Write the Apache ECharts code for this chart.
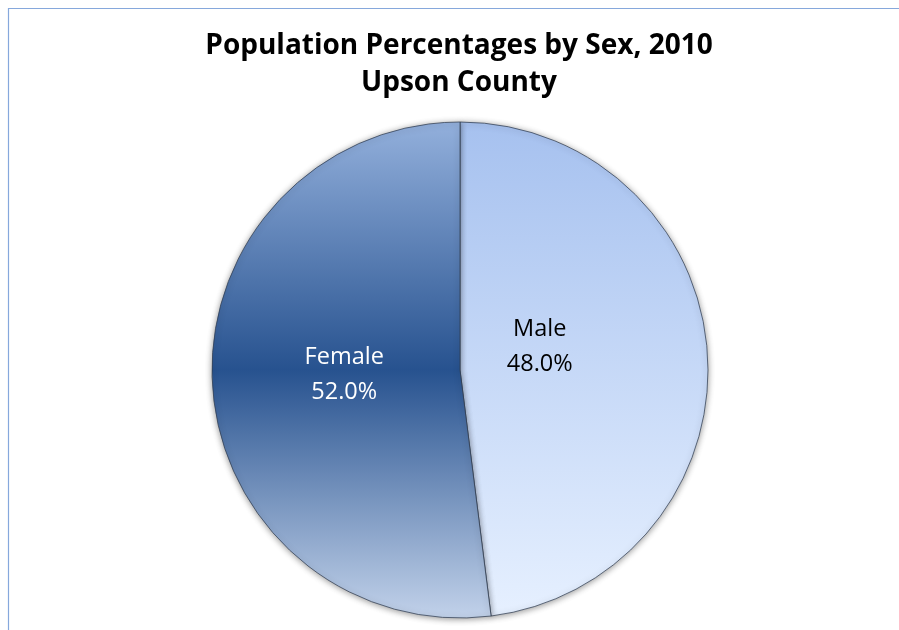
<!DOCTYPE html>
<html>
<head>
<meta charset="utf-8">
<title>Population Percentages by Sex, 2010</title>
<script src="https://cdn.jsdelivr.net/npm/echarts@6/dist/echarts.min.js"></script>
<style>
  html, body { margin: 0; padding: 0; background: #ffffff; }
  #chart { width: 899px; height: 630px; }
</style>
</head>
<body>
<div id="chart"></div>
<script>
// Population shares for Upson County, 2010 census
const categories = ['Male', 'Female'];
const percentages = [48.0, 52.0];

const chart = echarts.init(document.getElementById('chart'));

// Slice fills: vertical gradients, light-to-lighter for Male, light-dark-light for Female
const fills = [
  new echarts.graphic.LinearGradient(0, 0, 0, 1, [
    { offset: 0, color: '#a6c1ef' },
    { offset: 1, color: '#e6f0ff' }
  ]),
  new echarts.graphic.LinearGradient(0, 0, 0, 1, [
    { offset: 0, color: '#93b0dc' },
    { offset: 0.5, color: '#27528f' },
    { offset: 1, color: '#c2d2ea' }
  ])
];
const labelColors = ['#000000', '#ffffff'];
const labelShift = [[-47, -15], [11, -3]];

chart.setOption({
  animation: false,
  backgroundColor: '#ffffff',
  title: {
    text: 'Population Percentages by Sex, 2010\nUpson County',
    left: 459,
    top: 28,
    padding: 0,
    textAlign: 'center',
    textStyle: {
      fontFamily: 'Open Sans',
      fontWeight: 'bold',
      fontSize: 28,
      lineHeight: 37,
      color: '#000000'
    }
  },
  graphic: [{
    type: 'rect',
    silent: true,
    shape: { x: 8.5, y: 8.5, width: 1000, height: 1000 },
    style: { fill: 'none', stroke: '#86a8dc', lineWidth: 1.2 }
  }],
  series: [{
    type: 'pie',
    center: [460, 370],
    radius: 248,
    startAngle: 90,
    clockwise: true,
    avoidLabelOverlap: false,
    emphasis: { disabled: true },
    itemStyle: {
      borderColor: 'rgba(50,62,80,0.75)',
      borderWidth: 1,
      shadowBlur: 6,
      shadowColor: 'rgba(0,0,0,0.4)',
      shadowOffsetY: 1
    },
    label: {
      position: 'inside',
      fontFamily: 'Open Sans',
      fontSize: 23.5,
      lineHeight: 35,
      formatter: p => p.name + '\n' + p.value.toFixed(1) + '%'
    },
    labelLine: { show: false },
    labelLayout: p => ({ dx: labelShift[p.dataIndex][0], dy: labelShift[p.dataIndex][1] }),
    data: categories.map((name, i) => ({
      name: name,
      value: percentages[i],
      itemStyle: { color: fills[i] },
      label: { color: labelColors[i] }
    }))
  }]
});
</script>
</body>
</html>
